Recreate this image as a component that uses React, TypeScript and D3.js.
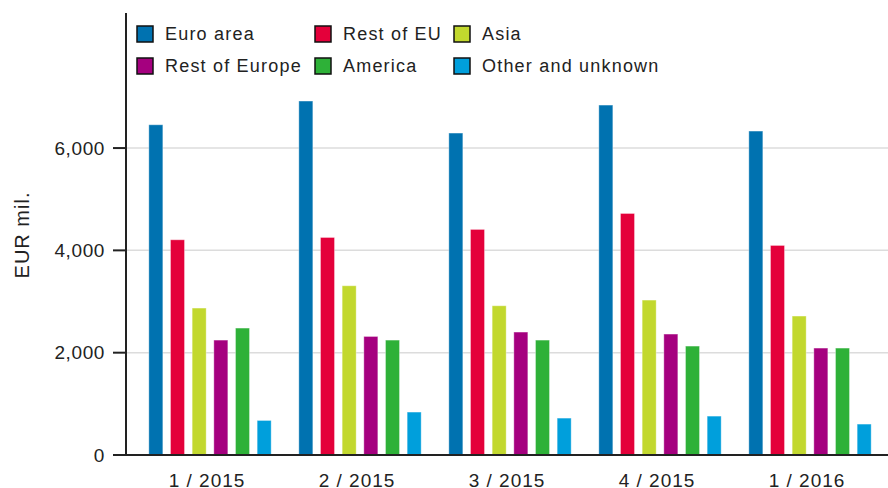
import React from "react";
import * as d3 from "d3";

const periods = ["1 / 2015", "2 / 2015", "3 / 2015", "4 / 2015", "1 / 2016"];
const seriesNames = ["Euro area", "Rest of EU", "Asia", "Rest of Europe", "America", "Other and unknown"];
const seriesColors = ["#0072b0", "#e4003a", "#c2d82e", "#a5007f", "#2eb138", "#009fdc"];
const euroArea = [6455, 6919, 6293, 6840, 6332];
const restOfEU = [4207, 4252, 4409, 4721, 4096];
const asia = [2872, 3308, 2917, 3028, 2716];
const restOfEurope = [2246, 2317, 2403, 2364, 2090];
const america = [2481, 2246, 2246, 2129, 2090];
const otherUnknown = [675, 839, 721, 760, 604];
const yTicks = [0, 2000, 4000, 6000];
const yTitle = "EUR mil.";

const seriesValues = [euroArea, restOfEU, asia, restOfEurope, america, otherUnknown];

const W = 888;
const H = 488;
const axisX = 126;
const font = "'Liberation Sans', Arial, sans-serif";

export default function App() {
  const x0 = d3.scaleBand<string>().domain(periods).range([135, 885]).paddingInner(20 / 150).paddingOuter(10 / 150);
  const x1 = d3.scaleBand<string>().domain(seriesNames).range([0, x0.bandwidth()]).paddingInner(0.354).paddingOuter(0.177);
  const y = d3.scaleLinear().domain([0, 8640]).range([455, 13]);
  const fmt = d3.format(",");

  const legendCols = [137, 315, 454];
  const legendRows = [34, 66];

  return (
    <svg width={W} height={H} style={{ position: "absolute", left: 0, top: 0, background: "#fff" }} fontFamily={font}>
      {/* gridlines */}
      {yTicks.filter((t) => t > 0).map((t) => (
        <line key={"g" + t} x1={axisX} x2={W} y1={y(t)} y2={y(t)} stroke="#dcdcdc" strokeWidth={1.5} />
      ))}
      {/* bars */}
      {periods.map((p, i) => (
        <g key={p} transform={`translate(${x0(p)},0)`}>
          {seriesNames.map((s, j) => {
            const v = seriesValues[j][i];
            return (
              <rect
                key={s}
                x={x1(s)}
                y={y(v)}
                width={x1.bandwidth()}
                height={y(0) - y(v)}
                fill={seriesColors[j]}
                stroke="#ffffff"
                strokeOpacity={0.35}
                strokeWidth={1}
              />
            );
          })}
        </g>
      ))}
      {/* y axis */}
      <line x1={axisX} x2={axisX} y1={13} y2={y(0)} stroke="#222" strokeWidth={2} />
      <line x1={113} x2={W} y1={y(0)} y2={y(0)} stroke="#222" strokeWidth={2} />
      {yTicks.map((t) => (
        <g key={"t" + t}>
          <line x1={113} x2={axisX} y1={y(t)} y2={y(t)} stroke="#222" strokeWidth={2} />
          <text x={105} y={y(t)} dy="0.35em" textAnchor="end" fontSize={19} letterSpacing={0.6} fill="#222">
            {fmt(t)}
          </text>
        </g>
      ))}
      <text
        transform={`translate(29,235) rotate(-90)`}
        textAnchor="middle"
        fontSize={20}
        letterSpacing={1}
        fill="#222"
      >
        {yTitle}
      </text>
      {/* x labels */}
      {periods.map((p) => (
        <text key={"x" + p} x={(x0(p) as number) + x0.bandwidth() / 2 - 3} y={487} textAnchor="middle" fontSize={19} letterSpacing={1} fill="#222">
          {p}
        </text>
      ))}
      {/* legend */}
      {seriesNames.map((s, j) => {
        const col = j % 3;
        const row = Math.floor(j / 3);
        const lx = legendCols[col];
        const ly = legendRows[row];
        const order = [0, 1, 2, 3, 4, 5];
        return (
          <g key={"l" + s} data-o={order[j]}>
            <rect x={lx} y={ly - 8} width={16} height={16} fill={seriesColors[j]} stroke="#111" strokeWidth={1.5} />
            <text x={lx + 28} y={ly} dy="0.35em" fontSize={18} letterSpacing={1.2} fill="#222">
              {s}
            </text>
          </g>
        );
      })}
    </svg>
  );
}
